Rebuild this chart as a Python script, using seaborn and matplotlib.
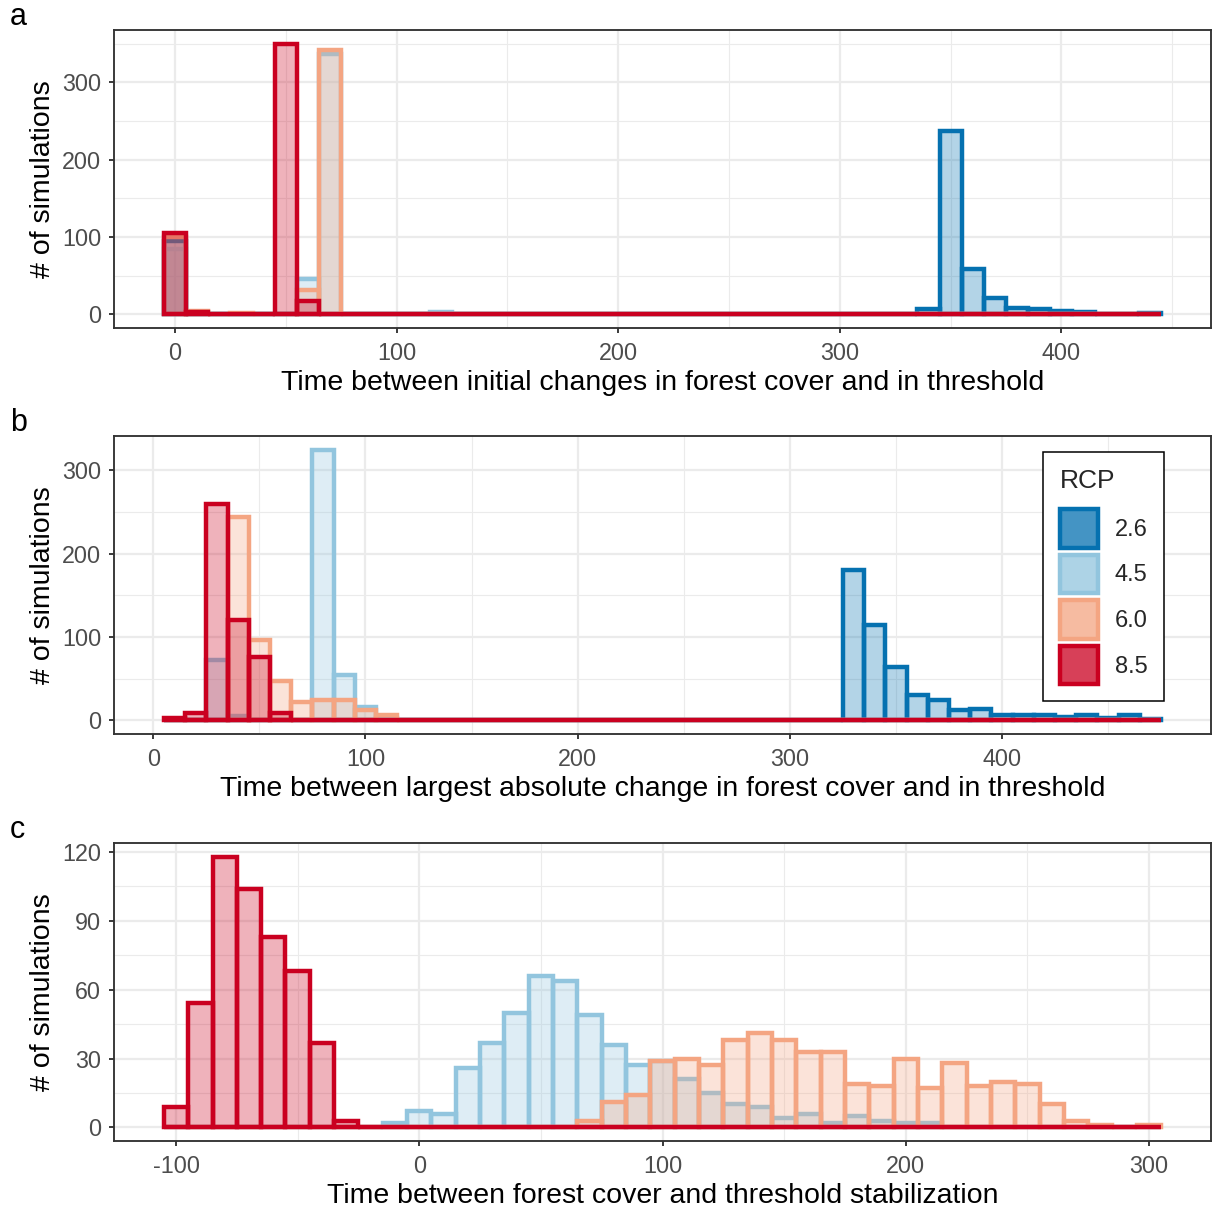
import numpy as np
import pandas as pd
import matplotlib
matplotlib.use("Agg")
import matplotlib.pyplot as plt
from matplotlib.patches import Patch
from matplotlib.ticker import MultipleLocator
import seaborn as sns

# RCP scenarios and their colours (RdBu)
rcp_levels = ["2.6", "4.5", "6.0", "8.5"]
rcp_colors = ["#0571b0", "#92c5de", "#f4a582", "#ca0020"]

# ---- Panel a: time between initial changes in forest cover and in threshold
# (centres of 10-year bins, number of simulations per bin)
a_edges = (-5, 445)
a_26_t = [0, 80, 90, 340, 350, 360, 370, 380, 390, 400, 410, 420, 430, 440]
a_26_n = [95, 1, 1, 7, 237, 59, 21, 8, 7, 5, 3, 1, 1, 2]
a_45_t = [0, 60, 70, 120]
a_45_n = [84, 46, 336, 3]
a_60_t = [0, 10, 30, 60, 70]
a_60_n = [100, 4, 2, 31, 342]
a_85_t = [0, 10, 30, 50, 60]
a_85_n = [105, 3, 1, 350, 18]

# ---- Panel b: time between largest absolute change in forest cover and in threshold
b_edges = (5, 475)
b_26_t = [330, 340, 350, 360, 370, 380, 390, 400, 410, 420, 430, 440, 450, 460, 470]
b_26_n = [181, 114, 64, 31, 25, 13, 14, 6, 7, 6, 4, 7, 3, 7, 2]
b_45_t = [30, 40, 80, 90, 100, 110]
b_45_n = [72, 5, 325, 55, 16, 3]
b_60_t = [40, 50, 60, 70, 80, 90, 100, 110, 120, 130, 140]
b_60_n = [244, 97, 47, 22, 24, 25, 13, 6, 1, 1, 1]
b_85_t = [10, 20, 30, 40, 50, 60]
b_85_n = [3, 9, 260, 121, 76, 9]

# ---- Panel c: time between forest cover and threshold stabilization
c_edges = (-105, 305)
c_45_t = [-10, 0, 10, 20, 30, 40, 50, 60, 70, 80, 90, 100, 110, 120, 130, 140,
          150, 160, 170, 180, 190, 200, 210]
c_45_n = [2, 7, 6, 26, 37, 50, 66, 64, 49, 36, 27, 29, 21, 15, 10, 9,
          4, 6, 2, 5, 3, 2, 2]
c_60_t = [70, 80, 90, 100, 110, 120, 130, 140, 150, 160, 170, 180, 190, 200,
          210, 220, 230, 240, 250, 260, 270, 280, 300]
c_60_n = [3, 11, 14, 29, 30, 27, 38, 41, 38, 33, 33, 19, 18, 30,
          17, 28, 18, 20, 19, 10, 3, 1, 1]
c_85_t = [-100, -90, -80, -70, -60, -50, -40, -30]
c_85_n = [9, 54, 118, 104, 83, 68, 37, 3]

panels = [
    dict(tag="a", edges=a_edges,
         series={"2.6": (a_26_t, a_26_n), "4.5": (a_45_t, a_45_n),
                 "6.0": (a_60_t, a_60_n), "8.5": (a_85_t, a_85_n)},
         xlabel="Time between initial changes in forest cover and in threshold",
         xmajor=100, ymajor=100),
    dict(tag="b", edges=b_edges,
         series={"2.6": (b_26_t, b_26_n), "4.5": (b_45_t, b_45_n),
                 "6.0": (b_60_t, b_60_n), "8.5": (b_85_t, b_85_n)},
         xlabel="Time between largest absolute change in forest cover and in threshold",
         xmajor=100, ymajor=100),
    dict(tag="c", edges=c_edges,
         series={"4.5": (c_45_t, c_45_n), "6.0": (c_60_t, c_60_n),
                 "8.5": (c_85_t, c_85_n)},
         xlabel="Time between forest cover and threshold stabilization",
         xmajor=100, ymajor=30),
]

sns.set_theme(style="white")
plt.rcParams["font.family"] = ["Liberation Sans", "DejaVu Sans"]
plt.rcParams["axes.unicode_minus"] = False

W, H = 1212, 1211
fig = plt.figure(figsize=(W / 100, H / 100), dpi=100)

ax_left, ax_right = 114, 1211
ax_tops = [30, 436, 843]
ax_height = 298

grid_col = "#ebebeb"
dark = "#333333"
bar_lw = 3.2
tick_fs = 16.8
title_fs = 20.5

for p, top in zip(panels, ax_tops):
    ax = fig.add_axes([ax_left / W, 1 - (top + ax_height) / H,
                       (ax_right - ax_left) / W, ax_height / H])
    lo, hi = p["edges"]

    rows = []
    for lvl, (t, n) in p["series"].items():
        rows.append(pd.DataFrame({"RCP": lvl, "time": t, "count": n}))
    df = pd.concat(rows, ignore_index=True)

    # layered histograms with shared 10-year bins, highest scenario on top
    for lvl, col in zip(rcp_levels, rcp_colors):
        sub = df[df["RCP"] == lvl]
        if sub.empty:
            continue
        sns.histplot(data=sub, x="time", weights="count",
                     binwidth=10, binrange=(lo, hi),
                     color=col, alpha=0.3, edgecolor=col, linewidth=bar_lw,
                     ax=ax, legend=False)

    ymax = df["count"].max()
    span = hi - lo
    ax.set_xlim(lo - 0.05 * span, hi + 0.05 * span)
    ax.set_ylim(-0.05 * ymax, 1.05 * ymax)

    ax.xaxis.set_major_locator(MultipleLocator(p["xmajor"]))
    ax.xaxis.set_minor_locator(MultipleLocator(p["xmajor"] / 2))
    ax.yaxis.set_major_locator(MultipleLocator(p["ymajor"]))
    ax.yaxis.set_minor_locator(MultipleLocator(p["ymajor"] / 2))
    ax.grid(which="major", color=grid_col, linewidth=1.6)
    ax.grid(which="minor", color=grid_col, linewidth=0.8)
    ax.set_axisbelow(True)
    ax.set_facecolor("white")
    for s in ax.spines.values():
        s.set_visible(True)
        s.set_color(dark)
        s.set_linewidth(1.35)
    ax.tick_params(which="major", length=3.6, width=1.35, color=dark,
                   labelsize=tick_fs, labelcolor="#4d4d4d",
                   bottom=True, left=True)
    ax.tick_params(axis="x", which="major", pad=6.4)
    ax.tick_params(axis="y", which="major", pad=5.6)
    ax.tick_params(which="minor", length=0)

    ax.set_xlabel(p["xlabel"], fontsize=title_fs, color="black", labelpad=4)
    ax.set_ylabel("# of simulations", fontsize=title_fs, color="black", labelpad=4.5)

    fig.text(10 / W, 1 - (top - 5) / H, p["tag"], fontsize=22, color="black",
             ha="left", va="baseline")

    if p["tag"] == "b":
        handles = [Patch(facecolor=matplotlib.colors.to_rgba(c, 0.75),
                         edgecolor=c, linewidth=bar_lw, label=l)
                   for l, c in zip(rcp_levels, rcp_colors)]
        leg = ax.legend(handles=handles, title="RCP", loc="upper left",
                        bbox_to_anchor=((1043 - ax_left) / (ax_right - ax_left),
                                        1 - (452 - top) / ax_height),
                        borderaxespad=0, fontsize=17, title_fontsize=19,
                        handlelength=1.63, handleheight=2.13, labelspacing=0.3,
                        handletextpad=0.7, borderpad=0.7, frameon=True,
                        fancybox=False, alignment="left")
        # extra room between the legend title and its keys
        leg._legend_box.sep = 12
        fr = leg.get_frame()
        fr.set_edgecolor("black")
        fr.set_linewidth(1.1)
        fr.set_facecolor("white")
        fr.set_alpha(1)

fig.savefig("out.png", dpi=100)
